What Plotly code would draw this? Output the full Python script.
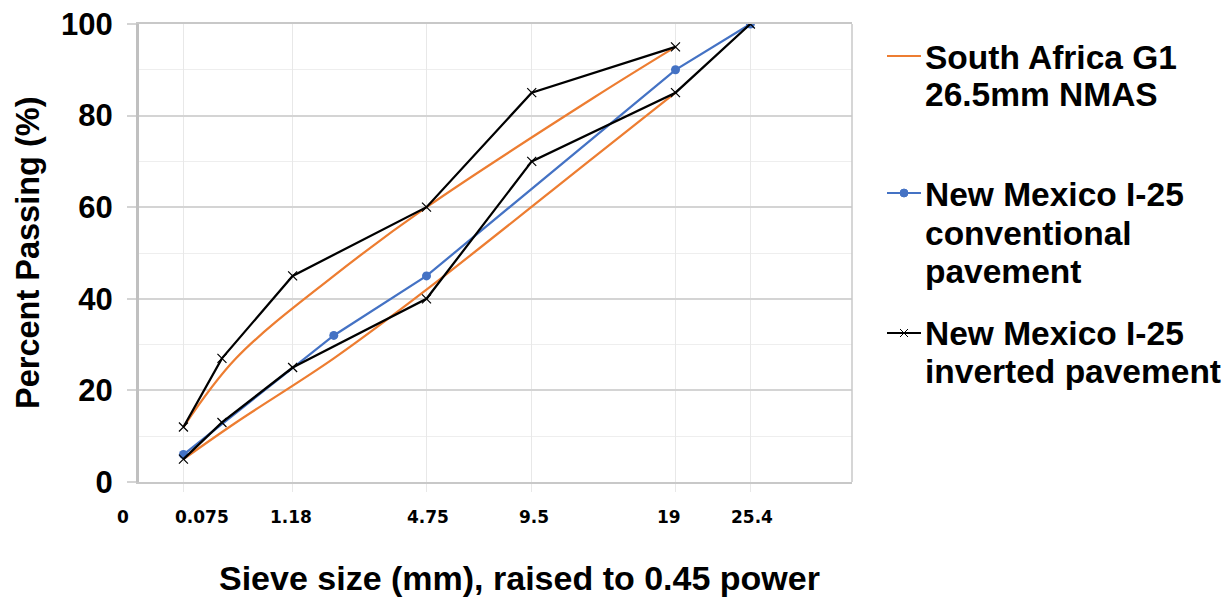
import plotly.graph_objects as go

# Gradation data: sieve size (mm) and percent passing
G1_SIEVES = [0.075, 0.425, 2.0, 4.75, 13.2, 19.0]
G1_UPPER = [12, 27, 45, 60, 84, 95]
G1_LOWER = [5, 13, 27, 42, 71, 85]

CONV_SIEVES = [0.075, 2.0, 4.75, 19.0, 25.4]
CONV_PASSING = [6, 32, 45, 90, 100]

INV_UPPER_SIEVES = [0.075, 0.3, 1.18, 4.75, 9.5, 19.0]
INV_UPPER = [12, 27, 45, 60, 85, 95]
INV_LOWER_SIEVES = [0.075, 0.3, 1.18, 4.75, 9.5, 19.0, 25.4]
INV_LOWER = [5, 13, 25, 40, 70, 85, 100]

TICK_SIEVES = [0, 0.075, 1.18, 4.75, 9.5, 19, 25.4]
TICK_TEXT = ["0", "0.075", "1.18", "4.75", "9.5", "19", "25.4"]

POWER = 0.45

ORANGE = "#ED7D31"
BLUE = "#4472C4"
BLACK = "#000000"

W, H = 1230, 598
ML, MR, MT, MB = 139, 378, 24, 116
PW, PH = W - ML - MR, H - MT - MB


def p(sizes):
    return [s ** POWER for s in sizes]


def px(x):
    return (x - ML) / PW


def py(y):
    return (H - MB - y) / PH


fig = go.Figure()

fig.add_trace(go.Scatter(x=p(G1_SIEVES), y=G1_UPPER, mode="lines",
                         line=dict(color=ORANGE, width=2.25, shape="spline", smoothing=1),
                         showlegend=False))
fig.add_trace(go.Scatter(x=p(G1_SIEVES), y=G1_LOWER, mode="lines",
                         line=dict(color=ORANGE, width=2.25, shape="spline", smoothing=1),
                         showlegend=False))
fig.add_trace(go.Scatter(x=p(CONV_SIEVES), y=CONV_PASSING, mode="lines+markers",
                         line=dict(color=BLUE, width=2.25),
                         marker=dict(color=BLUE, size=9, symbol="circle"),
                         showlegend=False))
xm = dict(color=BLACK, size=9, symbol="x-thin", line=dict(color=BLACK, width=1.2))
fig.add_trace(go.Scatter(x=p(INV_UPPER_SIEVES), y=INV_UPPER, mode="lines+markers",
                         line=dict(color=BLACK, width=2.25), marker=xm, showlegend=False))
fig.add_trace(go.Scatter(x=p(INV_LOWER_SIEVES), y=INV_LOWER, mode="lines+markers",
                         line=dict(color=BLACK, width=2.25), marker=xm, showlegend=False))

# x tick labels placed under the sieve gridlines
tick_shift = [-16, 19, -2, 1, 2, -6, 2]
for s, t, sh in zip(TICK_SIEVES, TICK_TEXT, tick_shift):
    fig.add_annotation(x=s ** POWER, xref="x", y=py(517), yref="paper",
                       text=t, showarrow=False, xshift=sh,
                       xanchor="center", yanchor="middle",
                       font=dict(family="DejaVu Sans", size=17, color="black", weight="bold"))

# axis titles
fig.add_annotation(x=px(519), y=py(578), xref="paper", yref="paper",
                   text="Sieve size (mm), raised to 0.45 power", showarrow=False,
                   xanchor="center", yanchor="middle",
                   font=dict(family="Liberation Sans, Arial", size=34, color="black", weight="bold"))
fig.add_annotation(x=px(28), y=py(253), xref="paper", yref="paper",
                   text="Percent Passing (%)", showarrow=False, textangle=-90,
                   xanchor="center", yanchor="middle",
                   font=dict(family="Liberation Sans, Arial", size=32.5, color="black", weight="bold"))

# legend
LEG_FONT = dict(family="Liberation Sans, Arial", size=33.5, color="black", weight="bold")
legend_lines = [
    ("South Africa G1", 57), ("26.5mm NMAS", 95),
    ("New Mexico I-25", 194), ("conventional", 233), ("pavement", 271),
    ("New Mexico I-25", 333), ("inverted pavement", 371),
]
for txt, yc in legend_lines:
    fig.add_annotation(x=px(923), y=py(yc), xref="paper", yref="paper", text=txt,
                       showarrow=False, xanchor="left", yanchor="middle", font=LEG_FONT)

for color, yc in [(ORANGE, 56), (BLUE, 193), (BLACK, 333)]:
    fig.add_shape(type="line", xref="paper", yref="paper",
                  x0=px(887), x1=px(921), y0=py(yc), y1=py(yc),
                  line=dict(color=color, width=2))
fig.add_shape(type="circle", xref="paper", yref="paper",
              x0=px(900), x1=px(908), y0=py(189), y1=py(197),
              fillcolor=BLUE, line=dict(color=BLUE, width=1))
for dx0, dy0, dx1, dy1 in [(-4, -4, 4, 4), (-4, 4, 4, -4)]:
    fig.add_shape(type="line", xref="paper", yref="paper",
                  x0=px(904 + dx0), x1=px(904 + dx1), y0=py(333 + dy0), y1=py(333 + dy1),
                  line=dict(color=BLACK, width=1))

fig.update_layout(
    width=W, height=H,
    margin=dict(l=ML, r=MR, t=MT, b=MB, pad=0, autoexpand=False),
    paper_bgcolor="white", plot_bgcolor="white",
    xaxis=dict(range=[0, 5], tickvals=p(TICK_SIEVES[1:]), showticklabels=False,
               showgrid=True, gridcolor="#e8e8e8", gridwidth=1,
               ticks="outside", ticklen=8, tickcolor="#e8e8e8", tickwidth=1,
               showline=True, linecolor="#c8c8c8", linewidth=1.5, mirror=True,
               zeroline=False, fixedrange=True, automargin=False),
    yaxis=dict(range=[0, 100], tickvals=[0, 20, 40, 60, 80, 100],
               showgrid=True, gridcolor="#d4d4d4", gridwidth=1.5,
               minor=dict(dtick=10, showgrid=True, gridcolor="#eeeeee", gridwidth=1),
               ticks="outside", ticklen=9, tickcolor="#d4d4d4", tickwidth=1.5,
               ticklabelstandoff=8,
               tickfont=dict(family="Liberation Sans, Arial", size=31, color="black", weight="bold"),
               showline=True, linecolor="#c0c0c0", linewidth=3, mirror=False,
               zeroline=False, fixedrange=True, automargin=False),
    showlegend=False,
)
# right border of the plot area
fig.add_shape(type="line", xref="paper", yref="paper", x0=1, x1=1, y0=0, y1=1,
              line=dict(color="#c8c8c8", width=1.5))

fig.write_html("out.html")
